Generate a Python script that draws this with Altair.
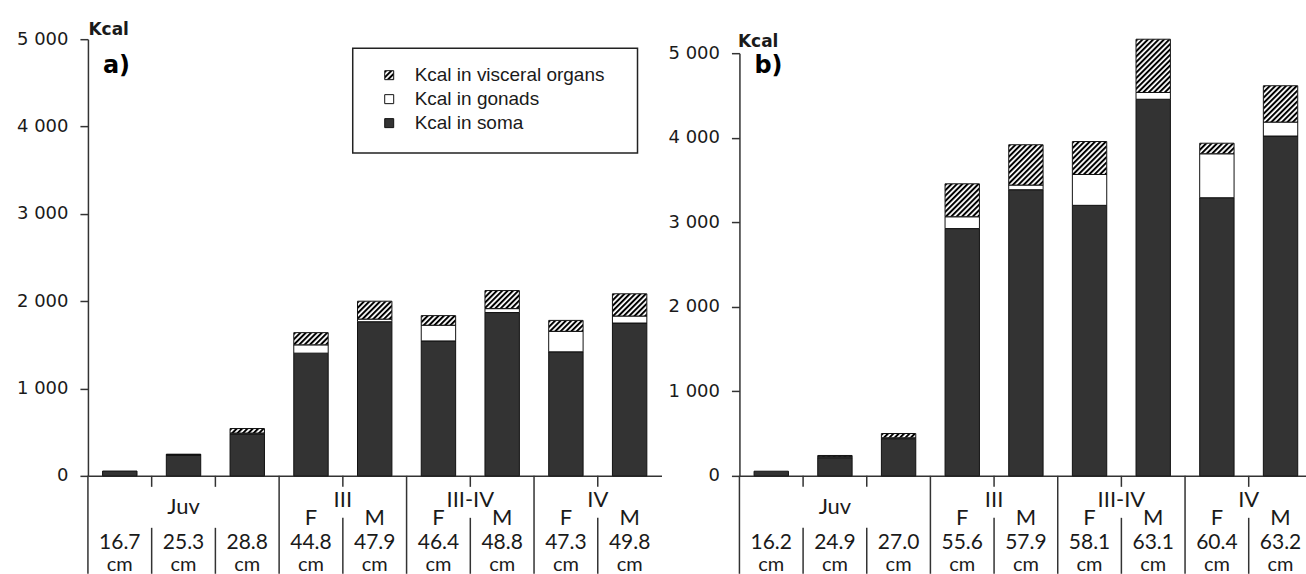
import urllib.parse

import altair as alt
import pandas as pd

# ---- data -------------------------------------------------------------
lengths_a = ["16.7", "25.3", "28.8", "44.8", "47.9", "46.4", "48.8", "47.3", "49.8"]
soma_a = [55, 238, 480, 1405, 1765, 1545, 1870, 1420, 1750]
gonads_a = [0, 5, 10, 95, 30, 180, 45, 235, 80]
visceral_a = [0, 5, 52, 140, 205, 110, 207, 125, 255]

lengths_b = ["16.2", "24.9", "27.0", "55.6", "57.9", "58.1", "63.1", "60.4", "63.2"]
soma_b = [55, 215, 440, 2925, 3385, 3200, 4455, 3290, 4020]
gonads_b = [0, 12, 10, 140, 55, 365, 80, 520, 165]
visceral_b = [0, 14, 51, 390, 477, 390, 630, 125, 430]

sexes = ["", "", "", "F", "M", "F", "M", "F", "M"]
stages = ["Juv", "III", "III-IV", "IV"]
stage_centre = [1.5, 4, 6, 8]
group_edges = [0, 3, 5, 7]
juv_edges = [1, 2]
sex_edges = [4, 6, 8]

y_ticks = [0, 1000, 2000, 3000, 4000, 5000]
legend_labels = ["Kcal in visceral organs", "Kcal in gonads", "Kcal in soma"]

# ---- styling ----------------------------------------------------------
INK = "#1a1a1a"
LINE = "#333333"
SOMA = "#333333"
TABLE_FONT = "Lato"
BAR_LO, BAR_HI = 0.23, 0.77
PLOT_H = 437

hatch_svg = (
    "<svg xmlns='http://www.w3.org/2000/svg' width='100%' height='100%'>"
    "<defs><pattern id='h' width='3.8' height='3.8' patternUnits='userSpaceOnUse' "
    "patternTransform='rotate(45)'><rect width='2' height='3.8' fill='black'/>"
    "</pattern></defs>"
    "<rect width='100%' height='100%' fill='white'/>"
    "<rect width='100%' height='100%' fill='url(#h)'/></svg>"
)
HATCH_URL = "data:image/svg+xml;charset=utf-8," + urllib.parse.quote(hatch_svg)


def segment_table(soma, gonads, visceral):
    rows = []
    for i, parts in enumerate(zip(soma, gonads, visceral)):
        base = 0
        for name, val in zip(["soma", "gonads", "visceral"], parts):
            if val > 0:
                rows.append(dict(part=name, x0=i + BAR_LO, x1=i + BAR_HI,
                                 y0=base, y1=base + val))
            base += val
    return pd.DataFrame(rows)


def panel(tag, lengths, soma, gonads, visceral, width, x_max, y_range,
          title_x, title_y, with_legend):
    seg = segment_table(soma, gonads, visceral)
    xs = alt.Scale(domain=[0, x_max], nice=False, zero=False)
    ys = alt.Scale(domain=[0, 5000], range=y_range, nice=False, zero=True)
    x_axis = alt.Axis(domain=True, domainColor=LINE, domainWidth=1.5,
                      ticks=False, labels=False, grid=False, title=None)
    y_axis = alt.Axis(
        values=y_ticks, grid=False,
        labelExpr="replace(format(datum.value, ','), ',', ' ')",
        labelFont="DejaVu Sans", labelFontSize=18, labelColor=INK,
        labelPadding=12, tickSize=8, tickWidth=1.5, tickColor=LINE,
        domainColor=LINE, domainWidth=1.5,
        title="Kcal", titleAngle=0, titleAlign="left",
        titleBaseline="alphabetic", titleX=title_x, titleY=title_y,
        titleFont="DejaVu Sans", titleFontWeight="bold", titleFontSize=17,
        titleColor=INK,
    )
    X0 = alt.X("x0:Q", scale=xs, axis=x_axis)
    Y0 = alt.Y("y0:Q", scale=ys, axis=y_axis)

    base = alt.Chart(seg)
    soma_l = base.transform_filter("datum.part == 'soma'").mark_rect(
        fill=SOMA, stroke="#111111", strokeWidth=1
    ).encode(x=X0, x2="x1:Q", y=Y0, y2="y1:Q")
    gon_l = base.transform_filter("datum.part == 'gonads'").mark_rect(
        fill="white", stroke="#111111", strokeWidth=1
    ).encode(x=X0, x2="x1:Q", y=Y0, y2="y1:Q")
    vis = base.transform_filter("datum.part == 'visceral'")
    vis_img = vis.mark_image(aspect=False).encode(
        x=X0, x2="x1:Q", y=Y0, y2="y1:Q", url=alt.value(HATCH_URL)
    )
    vis_edge = vis.mark_rect(fillOpacity=0, stroke="#111111", strokeWidth=1).encode(
        x=X0, x2="x1:Q", y=Y0, y2="y1:Q"
    )

    # category table under the axis
    def rules(edges, top, bottom):
        return alt.Chart(pd.DataFrame({"x0": edges})).mark_rule(
            color=LINE, strokeWidth=1.5
        ).encode(x=X0, y=alt.value(top), y2=alt.value(bottom))

    table_rules = [
        rules(group_edges, PLOT_H, 535),
        rules(juv_edges + sex_edges, PLOT_H, PLOT_H + 11),
        rules(juv_edges, PLOT_H + 52, 535),
        rules(sex_edges, PLOT_H + 42, 535),
    ]

    def texts(df, y, size=22):
        return alt.Chart(df).mark_text(
            font=TABLE_FONT, fontSize=size, color=INK, align="center",
            baseline="alphabetic"
        ).encode(x=X0, y=alt.value(y), text="t:N")

    centres = [i + 0.5 for i in range(len(lengths))]
    juv_df = pd.DataFrame({"x0": stage_centre[:1], "t": stages[:1]})
    stage_df = pd.DataFrame({"x0": stage_centre[1:], "t": stages[1:]})
    sex_df = pd.DataFrame({"x0": centres, "t": sexes})
    sex_df = sex_df[sex_df.t != ""]
    len_df = pd.DataFrame({"x0": centres, "t": lengths})
    cm_df = pd.DataFrame({"x0": centres, "t": ["cm"] * len(lengths)})

    table_text = [
        texts(juv_df, PLOT_H + 38),
        texts(stage_df, PLOT_H + 31),
        texts(sex_df, PLOT_H + 49),
        texts(len_df, PLOT_H + 73, 21),
        texts(cm_df, PLOT_H + 95, 20),
    ]

    tag_l = alt.Chart(pd.DataFrame({"t": [tag]})).mark_text(
        font="DejaVu Sans", fontWeight="bold", fontSize=24, color="black",
        align="left", baseline="alphabetic"
    ).encode(x=alt.value(15), y=alt.value(34), text="t:N")

    layers = [soma_l, gon_l, vis_img, vis_edge] + table_rules + table_text + [tag_l]

    if with_legend:
        one = pd.DataFrame({"k": [0]})
        box = alt.Chart(one).mark_rect(
            fill="white", stroke="#222222", strokeWidth=1.5
        ).encode(x=alt.value(265), x2=alt.value(550), y=alt.value(9), y2=alt.value(114))
        layers.append(box)
        sym_x, sym_w, row_y = 297, 9, [36, 60, 84]
        layers.append(
            alt.Chart(one).mark_image(aspect=False).encode(
                x=alt.value(sym_x), x2=alt.value(sym_x + sym_w),
                y=alt.value(row_y[0] - 4.5), y2=alt.value(row_y[0] + 4.5),
                url=alt.value(HATCH_URL),
            )
        )
        for fill, ry in zip(["none", "white", SOMA], row_y):
            layers.append(
                alt.Chart(one).mark_rect(
                    fill=fill, stroke="#111111", strokeWidth=1
                ).encode(x=alt.value(sym_x), x2=alt.value(sym_x + sym_w),
                         y=alt.value(ry - 4.5), y2=alt.value(ry + 4.5))
            )
        for label, ry in zip(legend_labels, row_y):
            layers.append(
                alt.Chart(pd.DataFrame({"t": [label]})).mark_text(
                    font="Liberation Sans", fontSize=19, color=INK,
                    align="left", baseline="middle"
                ).encode(x=alt.value(327), y=alt.value(ry), text="t:N")
            )

    return alt.layer(*layers).properties(width=width, height=PLOT_H)


panel_a = panel("a)", lengths_a, soma_a, gonads_a, visceral_a,
                width=574, x_max=9, y_range=[PLOT_H, 0],
                title_x=0, title_y=-5, with_legend=True)
panel_b = panel("b)", lengths_b, soma_b, gonads_b, visceral_b,
                width=567, x_max=8.9, y_range=[PLOT_H, 14],
                title_x=-2, title_y=7, with_legend=False)

chart = (
    alt.hconcat(panel_a, panel_b, spacing=6)
    .properties(padding={"left": 16, "top": 20, "right": 0, "bottom": 0})
    .configure_view(stroke=None)
)

chart.save("out.html", embed_options={"renderer": "svg", "actions": False})
